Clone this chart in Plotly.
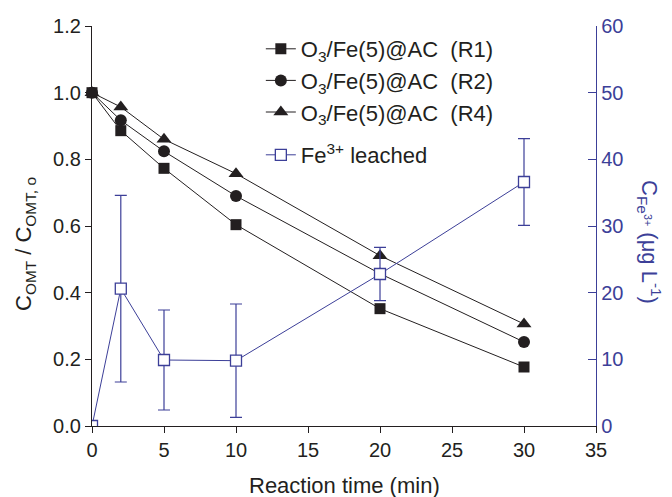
import plotly.graph_objects as go

time = [0, 2, 5, 10, 20, 30]
r1 = [1.0, 0.886, 0.773, 0.604, 0.352, 0.177]
r2 = [1.0, 0.917, 0.824, 0.690, 0.457, 0.252]
r4 = [1.0, 0.957, 0.860, 0.757, 0.511, 0.306]
fe = [0.0, 20.6, 9.9, 9.8, 22.8, 36.6]
fe_err = [0.0, 14.0, 7.5, 8.5, 4.0, 6.5]

BLACK = "#231f20"
BLUE = "#3c3f98"
FONT = "Liberation Sans, Arial, sans-serif"
TICK_FS = 20
TITLE_FS = 22
LEG_FS = 22

fig = go.Figure()

for name, ys, sym, sz in [("O<sub>3</sub>/Fe(5)@AC  (R1)", r1, "square", 11),
                          ("O<sub>3</sub>/Fe(5)@AC  (R2)", r2, "circle", 12),
                          ("O<sub>3</sub>/Fe(5)@AC  (R4)", r4, "triangle-up", 13)]:
    fig.add_trace(go.Scatter(
        x=time, y=ys, name=name, mode="lines+markers", cliponaxis=False,
        legendgroup=name, legend="legend",
        line=dict(color=BLACK, width=1),
        marker=dict(symbol=sym, size=sz, color=BLACK),
    ))

fig.add_trace(go.Scatter(
    x=time, y=fe, name="Fe<sup>3+</sup> leached", yaxis="y2",
    mode="lines+markers", legend="legend2",
    line=dict(color=BLUE, width=1),
    marker=dict(symbol="square", size=11, color="white", line=dict(color=BLUE, width=1.3)),
    error_y=dict(type="data", array=fe_err, visible=True, color=BLUE, thickness=1.2, width=6),
))

fig.update_layout(
    width=672, height=497,
    margin=dict(l=92, r=76, t=26, b=71, autoexpand=False),
    paper_bgcolor="white", plot_bgcolor="white",
    font=dict(family=FONT, size=TICK_FS, color=BLACK),
    showlegend=True,
    legend=dict(x=0.335, y=0.995, xanchor="left", yanchor="top",
                bgcolor="rgba(0,0,0,0)", font=dict(size=LEG_FS), traceorder="normal",
                itemwidth=30, tracegroupgap=2),
    legend2=dict(x=0.335, y=0.73, xanchor="left", yanchor="top",
                 bgcolor="rgba(0,0,0,0)", font=dict(size=LEG_FS), itemwidth=30),
    xaxis=dict(range=[0, 35], tickvals=[0, 5, 10, 15, 20, 25, 30, 35],
               showline=True, linecolor=BLACK, linewidth=1.3, ticks="outside",
               ticklen=6, tickcolor=BLACK, showgrid=False, zeroline=False,
               tickfont=dict(size=TICK_FS), automargin=False),
    yaxis=dict(range=[0, 1.2], tickvals=[0, 0.2, 0.4, 0.6, 0.8, 1.0, 1.2],
               ticktext=["0.0", "0.2", "0.4", "0.6", "0.8", "1.0", "1.2"],
               showline=True, linecolor=BLACK, linewidth=1.3, ticks="outside",
               ticklen=6, tickcolor=BLACK, showgrid=False, zeroline=False,
               tickfont=dict(size=TICK_FS), automargin=False),
    yaxis2=dict(range=[0, 60], tickvals=[0, 10, 20, 30, 40, 50, 60],
                overlaying="y", side="right", anchor="x",
                showline=True, linecolor=BLUE, linewidth=1.3, ticks="inside",
                ticklen=8, tickcolor=BLUE, showgrid=False, zeroline=False,
                tickfont=dict(color=BLUE, size=TICK_FS), automargin=False),
)

fig.add_annotation(
    text="Reaction time (min)",
    xref="paper", yref="paper", x=0.5, y=-0.1475, xanchor="center", yanchor="middle",
    showarrow=False, font=dict(color=BLACK, size=TITLE_FS, family=FONT),
)
fig.add_annotation(
    text="C<sub>OMT</sub> / C<sub>OMT, o</sub>",
    xref="paper", yref="paper", x=-0.133, y=0.455, xanchor="center", yanchor="middle",
    textangle=-90, showarrow=False, font=dict(color=BLACK, size=TITLE_FS, family=FONT),
)
fig.add_annotation(
    text="C<sub>Fe<sup>3+</sup></sub> (μg L<sup>-1</sup>)",
    xref="paper", yref="paper", x=1.107, y=0.46, xanchor="center", yanchor="middle",
    textangle=90, showarrow=False, font=dict(color=BLUE, size=TITLE_FS, family=FONT),
)

fig.write_html("out.html")
